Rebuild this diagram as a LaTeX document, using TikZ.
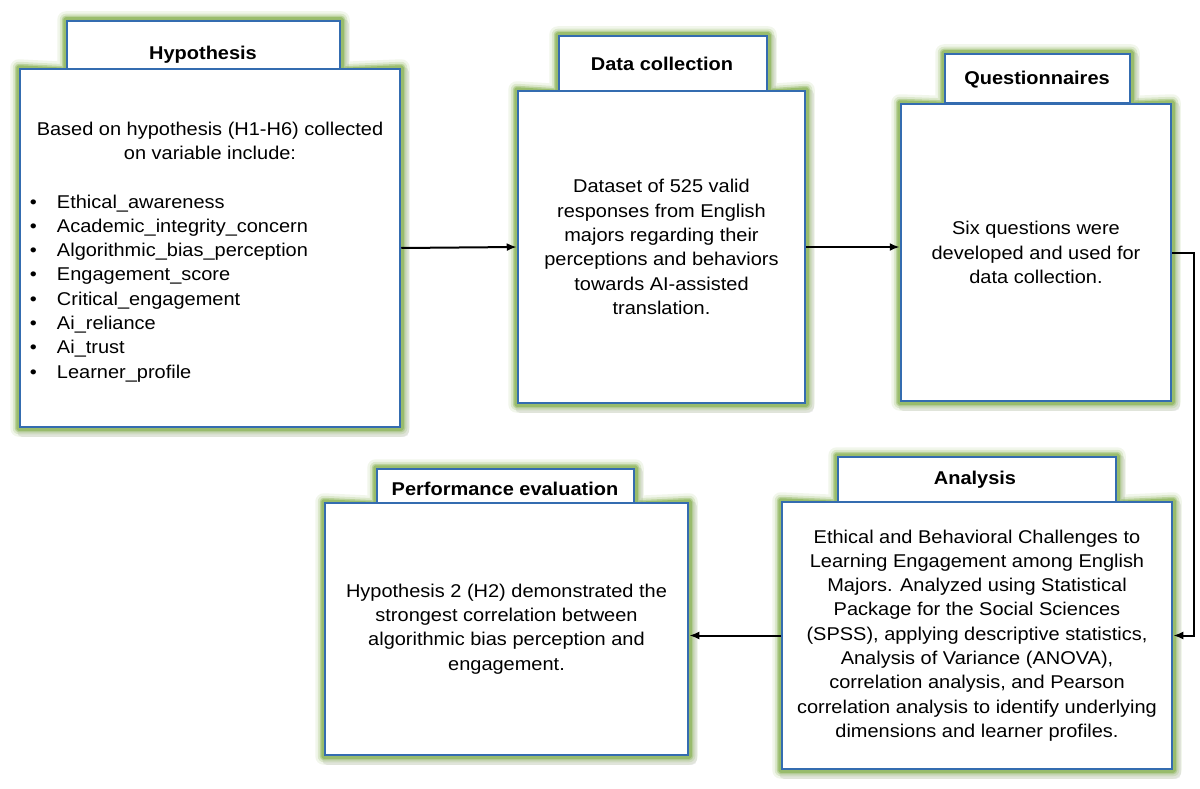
\documentclass[tikz,border=0pt]{standalone}
\usepackage{fontspec}
\setmainfont{Liberation Sans}[FakeStretch=1.08]
\usetikzlibrary{arrows.meta,backgrounds}
\definecolor{boxblue}{RGB}{52,108,176}
\definecolor{glowgreen}{RGB}{146,184,98}
\newcommand\fs{\fontsize{18.5}{24.3}\selectfont}
\newcommand\unionpath[2]{(#1.north west) -- (#2.south west) -- (#2.north west) -- (#2.north east) -- (#2.south east) -- (#1.north east) -- (#1.south east) -- (#1.south west) -- cycle}
\newcommand\glowbox[2]{%
  \draw[black, opacity=0.08, line width=9pt, line join=round, transform canvas={shift={(3pt,-4pt)}}] \unionpath{#1}{#2};
  \draw[glowgreen, opacity=0.12, line width=17pt, line join=round] \unionpath{#1}{#2};
  \draw[glowgreen, opacity=0.22, line width=12pt, line join=round] \unionpath{#1}{#2};
  \draw[glowgreen, opacity=0.45, line width=8pt, line join=round] \unionpath{#1}{#2};
  \draw[glowgreen, opacity=0.80, line width=5pt, line join=round] \unionpath{#1}{#2};
}
\tikzset{
  mainbox/.style={draw=boxblue, line width=2.5pt, fill=white, inner sep=0pt, align=center, font=\fs},
  tabbox/.style={draw=boxblue, line width=2.5pt, fill=white, inner sep=0pt},
  boxtitle/.style={font=\bfseries\fs, inner sep=0pt},
  bodytext/.style={font=\fs, inner sep=0pt, align=center},
  arr/.style={line width=2pt, -{Latex[length=10pt,width=8pt]}},
}
\begin{document}
\begin{tikzpicture}[x=1pt,y=-1pt]
\useasboundingbox (0,0) rectangle (1200,789);

% tabs
\node[tabbox, minimum width=273, minimum height=48] (hyptab) at (203.5,45) {};
\node[tabbox, minimum width=208, minimum height=55] (dctab) at (663,63.5) {};
\node[tabbox, minimum width=185, minimum height=49] (qtab) at (1037.5,78.5) {};
\node[tabbox, minimum width=278, minimum height=45] (antab) at (977,479.5) {};
\node[tabbox, minimum width=257, minimum height=34] (petab) at (505.5,486) {};

% main boxes
\node[mainbox, minimum width=380, minimum height=358] (hyp) at (210,248) {};
\node[bodytext, anchor=north] (hyptext) at (210,122) {%
  Based on hypothesis (H1-H6) collected\\on variable include:\\[30pt]
  \begin{tabular}{@{}p{27pt}@{}p{333pt}@{}}
  \textbullet & Ethical\_awareness\\
  \textbullet & Academic\_integrity\_concern\\
  \textbullet & Algorithmic\_bias\_perception\\
  \textbullet & Engagement\_score\\
  \textbullet & Critical\_engagement\\
  \textbullet & Ai\_reliance\\
  \textbullet & Ai\_trust\\
  \textbullet & Learner\_profile
  \end{tabular}};
\node[mainbox, minimum width=287, minimum height=312] (dc) at (661.5,247) {%
  Dataset of 525 valid\\responses from English\\majors regarding their\\perceptions and behaviors\\towards AI-assisted\\translation.};
\node[mainbox, minimum width=270, minimum height=297] (q) at (1036,252.5) {%
  Six questions were\\developed and used for\\data collection.};
\node[mainbox, minimum width=390, minimum height=267] (an) at (977,635.5) {%
  Ethical and Behavioral Challenges to\\Learning Engagement among English\\Majors. Analyzed using Statistical\\Package for the Social Sciences\\(SPSS), applying descriptive statistics,\\Analysis of Variance (ANOVA),\\correlation analysis, and Pearson\\correlation analysis to identify underlying\\dimensions and learner profiles.};
\node[mainbox, minimum width=363, minimum height=252] (pe) at (506.5,629) {%
  Hypothesis 2 (H2) demonstrated the\\strongest correlation between\\algorithmic bias perception and\\engagement.};

% titles
\node[boxtitle] (hyptitle) at (203,55) {Hypothesis};
\node[boxtitle] (dctitle) at (662,64) {Data collection};
\node[boxtitle] (qtitle) at (1037,80) {Questionnaires};
\node[boxtitle] (antitle) at (975,480) {Analysis};
\node[boxtitle] (petitle) at (505,489) {Performance evaluation};

% glow
\begin{scope}[on background layer]
  \fill[white] (0,0) rectangle (1200,789);
  \glowbox{hyp}{hyptab}
  \glowbox{dc}{dctab}
  \glowbox{q}{qtab}
  \glowbox{an}{antab}
  \glowbox{pe}{petab}
\end{scope}

% connectors
\coordinate (turn) at (1194,0);
\draw[arr] (hyp.east) -- (dc.west);
\draw[arr] (dc.east) -- (dc.east -| q.west);
\draw[arr] (q.east) -- (q.east -| turn) -- (an.east -| turn) -- (an.east);
\draw[arr] (an.west) -- (an.west -| pe.east);
\end{tikzpicture}
\end{document}
